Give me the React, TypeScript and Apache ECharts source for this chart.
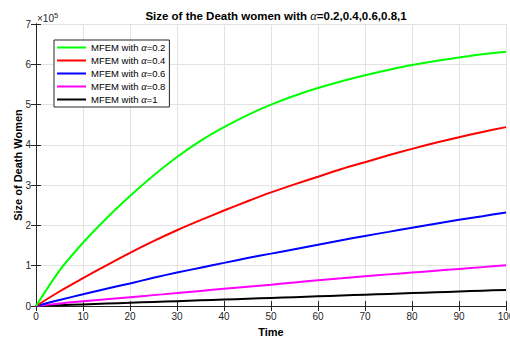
import React, { useEffect, useRef } from "react";
import * as echarts from "echarts";

// Time samples (x) and accumulated size of the death women for each fractional order
const times = [0, 5, 10, 15, 20, 25, 30, 35, 40, 45, 50, 55, 60, 65, 70, 75, 80, 85, 90, 95, 100];
const alpha02 = [0, 88000, 157000, 218000, 273000, 324000, 370000, 410000, 444000, 474000, 500000, 522000, 541000, 558000, 573000, 586000, 598000, 608000, 617000, 625000, 631000];
const alpha04 = [0, 36000, 69000, 101000, 132000, 161000, 188000, 213000, 237000, 260000, 282000, 302000, 321000, 340000, 357000, 374000, 390000, 405000, 419000, 432000, 444000];
const alpha06 = [0, 15000, 29000, 43000, 56000, 70000, 83000, 95000, 107000, 119000, 130000, 141000, 152000, 163000, 174000, 184000, 194000, 204000, 214000, 223000, 232000];
const alpha08 = [0, 6000, 12000, 17000, 22000, 27000, 32000, 37500, 43000, 48000, 53000, 58500, 64000, 69000, 74000, 78500, 83000, 87500, 92000, 96500, 101000];
const alpha1 = [0, 2000, 4000, 6000, 8000, 10000, 12000, 14000, 16000, 18000, 20000, 22000, 24000, 26000, 28000, 30000, 32000, 34000, 36000, 38000, 40000];

const seriesNames = [
  "MFEM with α=0.2",
  "MFEM with α=0.4",
  "MFEM with α=0.6",
  "MFEM with α=0.8",
  "MFEM with α=1",
];
const seriesValues = [alpha02, alpha04, alpha06, alpha08, alpha1];
const seriesColors = ["#00ff00", "#ff0000", "#0000ff", "#ff00ff", "#000000"];

const yScale = 100000;
const axisColor = "#262626";
const gridColor = "#e3e3e3";
const sans = "'Liberation Sans', Arial, Helvetica, sans-serif";
const serif = "'Liberation Serif', 'DejaVu Serif', serif";

export default function App() {
  const ref = useRef<HTMLDivElement>(null);

  useEffect(() => {
    if (!ref.current) return;
    const chart = echarts.init(ref.current, undefined, { renderer: "svg" });

    const tickStyle = { show: true, inside: true, length: 5, lineStyle: { color: axisColor, width: 1 } };
    const lineStyle = { show: true, lineStyle: { color: axisColor, width: 1 } };

    chart.setOption({
      animation: false,
      backgroundColor: "#ffffff",
      textStyle: { fontFamily: sans },
      title: {
        text: "Size of the Death women with {a|α}=0.2,0.4,0.6,0.8,1",
        left: 271,
        top: 4,
        textAlign: "center",
        textStyle: {
          fontFamily: sans,
          fontSize: 11.5,
          fontWeight: "bold",
          color: "#000",
          rich: {
            a: { fontFamily: serif, fontStyle: "italic", fontSize: 12.5, fontWeight: "normal", color: "#000" },
          },
        },
      },
      graphic: [
        {
          type: "text",
          x: 37,
          y: 23,
          style: { text: "×10", fontFamily: sans, fontSize: 10, fill: axisColor, verticalAlign: "bottom" },
        },
        {
          type: "text",
          x: 54,
          y: 19,
          style: { text: "5", fontFamily: sans, fontSize: 7.5, fill: axisColor, verticalAlign: "bottom" },
        },
      ],
      legend: {
        orient: "vertical",
        left: 54,
        top: 40,
        padding: [2, 4, 2, 3],
        icon: "rect",
        itemWidth: 29,
        itemHeight: 2,
        itemGap: 2,
        backgroundColor: "#ffffff",
        borderColor: axisColor,
        borderWidth: 1,
        borderRadius: 0,
        data: seriesNames,
        formatter: (name: string) => name.replace("α", "{a|α}"),
        textStyle: {
          fontFamily: sans,
          fontSize: 9.5,
          lineHeight: 11,
          color: "#000",
          rich: {
            a: { fontFamily: serif, fontStyle: "italic", fontSize: 10.5, lineHeight: 11, color: "#000" },
          },
        },
      },
      grid: { left: 36, right: 4, top: 24, bottom: 35, containLabel: false, outerBoundsMode: "none" },
      xAxis: [
        {
          type: "value",
          position: "bottom",
          min: 0,
          max: 100,
          interval: 10,
          name: "Time",
          nameLocation: "middle",
          nameGap: 20,
          nameMoveOverlap: false,
          nameTextStyle: { fontFamily: sans, fontSize: 11, fontWeight: "bold", color: "#000" },
          axisLine: lineStyle,
          axisTick: tickStyle,
          axisLabel: { color: axisColor, fontSize: 10, margin: 5 },
          splitLine: { show: true, lineStyle: { color: gridColor, width: 1 } },
        },
        {
          type: "value",
          position: "top",
          min: 0,
          max: 100,
          interval: 10,
          axisLine: lineStyle,
          axisTick: tickStyle,
          axisLabel: { show: false },
          splitLine: { show: false },
        },
      ],
      yAxis: [
        {
          type: "value",
          position: "left",
          min: 0,
          max: 7 * yScale,
          interval: yScale,
          name: "Size of Death Women",
          nameLocation: "middle",
          nameGap: 13,
          nameMoveOverlap: false,
          nameTextStyle: { fontFamily: sans, fontSize: 11, fontWeight: "bold", color: "#000" },
          axisLine: lineStyle,
          axisTick: tickStyle,
          axisLabel: { color: axisColor, fontSize: 10, margin: 5, formatter: (v: number) => String(Math.round(v / yScale)) },
          splitLine: { show: true, lineStyle: { color: gridColor, width: 1 } },
        },
        {
          type: "value",
          position: "right",
          min: 0,
          max: 7 * yScale,
          interval: yScale,
          axisLine: lineStyle,
          axisTick: tickStyle,
          axisLabel: { show: false },
          splitLine: { show: false },
        },
      ],
      series: seriesNames.map((name, i) => ({
        name,
        type: "line",
        xAxisIndex: 0,
        yAxisIndex: 0,
        data: times.map((t, j) => [t, seriesValues[i][j]]),
        smooth: 0.3,
        symbol: "none",
        showSymbol: false,
        lineStyle: { color: seriesColors[i], width: 2 },
        itemStyle: { color: seriesColors[i] },
        z: 10 - i,
      })),
    });

    return () => chart.dispose();
  }, []);

  return (
    <div
      ref={ref}
      style={{ position: "fixed", left: 0, top: 0, width: 510, height: 341 }}
    />
  );
}
